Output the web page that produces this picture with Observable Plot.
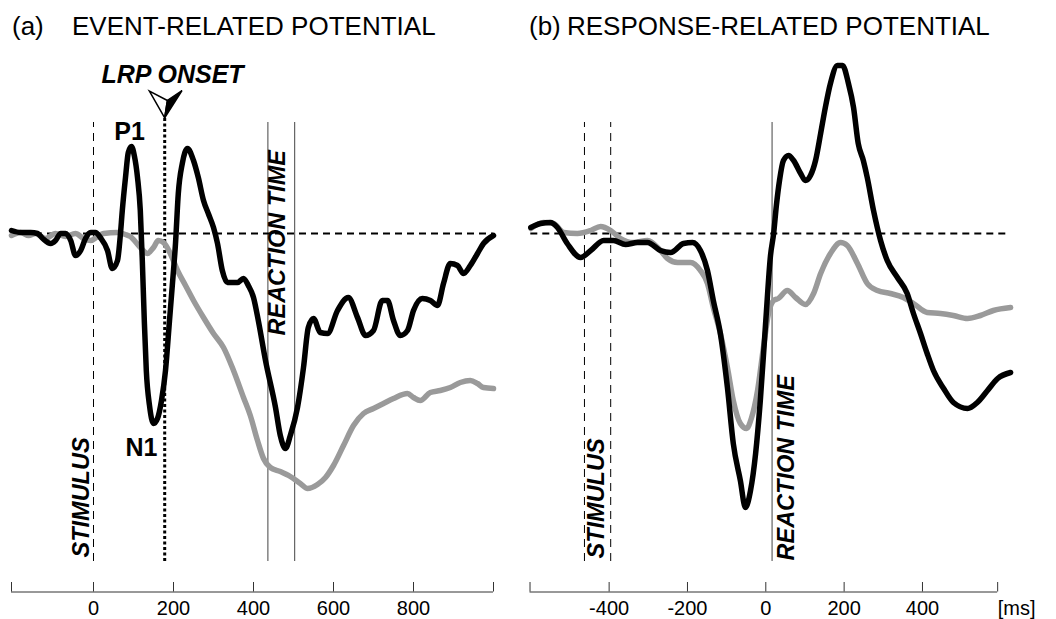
<!DOCTYPE html>
<html><head><meta charset="utf-8">
<script src="https://cdn.jsdelivr.net/npm/d3@7"></script>
<script src="https://cdn.jsdelivr.net/npm/@observablehq/plot@0.6"></script>
<style>
body{margin:0;background:#fff;}
#wrap{position:relative;width:1056px;height:619px;font-family:"Liberation Sans",Arial,sans-serif;overflow:hidden;}
.panel{position:absolute;top:0;height:619px;}
.t{position:absolute;font-size:26px;line-height:26px;color:#000;white-space:nowrap;}
</style></head><body>
<div id="wrap">
  <div class="panel" id="pa" style="left:0;width:520px"></div>
  <div class="panel" id="pb" style="left:520px;width:536px"></div>
  <div class="t" style="left:12px;top:13px">(a)</div>
  <div class="t" style="left:72px;top:13px">EVENT-RELATED POTENTIAL</div>
  <div class="t" style="left:529px;top:13px">(b)</div>
  <div class="t" style="left:567px;top:13px">RESPONSE-RELATED POTENTIAL</div>
</div>
<script>
// ---------- DATA (time in ms, amplitude in arbitrary µV units, positive up) ----------
const erpBlack = [[-205,0.3],[-182,0.1],[-157,0.1],[-140,0],[-127,-0.5],[-107,-1.0],[-95,-0.7],[-82,0],[-70,0],[-57,-0.7],[-45,-2.2],[-32,-1.7],[-20,-0.5],[-7,0.1],[5,0.1],[17,-0.4],[35,-1.7],[47,-3.5],[60,-2.7],[67,-0.2],[72,2.3],[80,5.6],[87,8.1],[95,8.7],[102,7.8],[110,5.6],[117,2.3],[122,-2.7],[127,-8.7],[132,-13.7],[140,-17.2],[150,-19],[160,-18.5],[170,-16.7],[180,-13.7],[190,-8.7],[197,-5.2],[205,-1.0],[212,4.0],[222,7.0],[235,8.5],[250,7.3],[262,5.6],[275,3.3],[287,2.0],[300,0.6],[310,-1.0],[322,-3.7],[335,-4.9],[360,-4.9],[375,-4.5],[387,-5.2],[400,-6.4],[412,-8.7],[430,-12.7],[455,-17.4],[467,-20.2],[480,-21.5],[492,-20.2],[510,-17.4],[525,-13.4],[537,-9.4],[550,-8.5],[567,-9.9],[585,-10],[610,-7.7],[637,-6.4],[660,-8.4],[680,-10.2],[700,-9.7],[722,-6.7],[735,-6.7],[750,-8.7],[767,-10.2],[785,-9.7],[800,-7.7],[822,-6.5],[842,-6.7],[860,-7.2],[875,-5.0],[892,-3.0],[910,-3.2],[925,-4.0],[942,-3.2],[960,-2.0],[975,-1.0],[1000,-0.2]];
const erpGray = [[-205,-0.2],[-182,0.1],[-162,-0.2],[-145,0],[-120,-0.5],[-95,0],[-70,-0.3],[-45,0],[-25,-0.5],[-7,-0.7],[10,-0.3],[25,0],[60,0.1],[80,-0.1],[92,-0.3],[117,-1.4],[135,-2.0],[150,-1.4],[162,-0.7],[175,-0.9],[192,-2.0],[210,-3.7],[230,-5.2],[250,-6.7],[275,-8.4],[300,-10],[325,-11.4],[350,-13.7],[375,-16.4],[392,-18.2],[410,-20.7],[425,-22.5],[442,-23.4],[467,-23.8],[492,-24.3],[517,-25],[535,-25.5],[560,-25.1],[580,-24.4],[600,-23.2],[625,-21.2],[650,-19.2],[675,-18],[700,-17.5],[725,-17],[750,-16.5],[785,-16],[800,-16.4],[817,-16.7],[842,-15.9],[867,-15.7],[892,-15.4],[917,-14.9],[942,-14.7],[960,-15],[975,-15.4],[1000,-15.5]];
const rrpBlack = [[-600,0.6],[-575,1.0],[-550,1.1],[-532,0.6],[-507,-1.0],[-473,-2.4],[-447,-1.7],[-414,-0.7],[-389,-0.7],[-358,-1.1],[-328,-0.9],[-302,-0.9],[-269,-1.7],[-243,-1.9],[-210,-1.0],[-187,-0.9],[-167,-1.7],[-149,-3.7],[-134,-6.7],[-116,-10],[-98,-15.4],[-83,-21],[-65,-24.7],[-52,-27.4],[-39,-25.7],[-26,-22],[-14,-16.7],[0,-8.7],[12,-2.2],[20,0],[27,2.8],[35,5.3],[45,7.3],[58,7.8],[71,7.3],[89,6.0],[101,5.3],[114,5.8],[127,7.3],[140,10],[152,12.6],[165,15],[183,16.8],[196,16.8],[211,15],[224,12.6],[236,9.0],[249,7.3],[259,5.6],[275,2.3],[293,-0.7],[310,-2.7],[336,-4.4],[361,-6.0],[377,-8.0],[395,-10],[412,-12],[428,-13.7],[454,-15.5],[479,-16.9],[515,-17.5],[540,-16.9],[566,-15.7],[592,-14.5],[625,-13.9]];
const rrpGray = [[-600,0.5],[-568,1.1],[-542,1.0],[-516,0.1],[-481,0],[-447,0.3],[-422,0.7],[-396,0.3],[-371,-0.5],[-338,-0.9],[-302,-0.7],[-269,-1.7],[-251,-2.5],[-225,-2.9],[-192,-2.9],[-167,-3.7],[-149,-5.0],[-134,-7.4],[-116,-10],[-98,-13.4],[-83,-16.7],[-65,-19],[-49,-19.5],[-37,-18.5],[-21,-15.7],[-6,-11.4],[7,-8.0],[20,-6.7],[32,-6.5],[55,-5.7],[76,-6.4],[101,-7.1],[122,-6.0],[140,-4.0],[165,-2.0],[191,-0.9],[208,-1.2],[234,-3.0],[259,-5.0],[285,-5.7],[318,-6.0],[351,-6.4],[377,-7.0],[412,-7.9],[446,-8.0],[479,-8.2],[515,-8.5],[548,-8.2],[581,-7.7],[625,-7.4]];

const erpTicks = [0, 200, 400, 600, 800];
const rrpTicks = [-400, -200, 0, 200, 400];
const erpAxisEnds = [-205, 1000];
const rrpAxisEnds = [-602, 592];
const erpDataEnds = [-205, 1000];
const rrpDataEnds = [-600, 625];

// event markers (ms)
const erpStimulus = [0];
const erpLrpOnset = [178];
const erpReaction = [436, 503];
const rrpStimulus = [-463, -396];
const rrpReaction = [16];

// ---------- LAYOUT ----------
const FONT = '"Liberation Sans", Arial, sans-serif';
const yDomain = [-38.6, 23.3];
const vTop = 11.1, vBottom = -32.8;      // extent of marker lines
const axisV = -35.85, tickLen = 0.95, labelV = -38.1;

const wingL = {draw(ctx){ ctx.moveTo(0,0); ctx.lineTo(-15.3,-26.7); ctx.lineTo(2.7,-17.3); ctx.closePath(); }};
const wingR = {draw(ctx){ ctx.moveTo(0,0); ctx.lineTo(2.7,-17.3); ctx.lineTo(17.3,-27.3); ctx.closePath(); }};

function axisMarks(ticks, ends) {
  return [
    Plot.ruleY([axisV], {x1: ends[0], x2: ends[1], stroke: "#333", strokeWidth: 1}),
    Plot.ruleX([...ticks, ...ends], {x: d => d, y1: axisV, y2: axisV + tickLen, stroke: "#333", strokeWidth: 1}),
    Plot.text(ticks, {x: d => d, y: labelV, text: d => String(d), lineAnchor: "bottom", fontSize: 20, fill: "#000"})
  ];
}
function curve(data, color) {
  return Plot.line(data, {x: d => d[0], y: d => d[1], stroke: color, strokeWidth: 5.5, curve: "monotone-x", strokeLinejoin: "round", strokeLinecap: "round"});
}
function vlabel(text, x, y) {
  return Plot.text([text], {x: () => x, y: () => y, text: d => d, rotate: -90, textAnchor: "start", lineAnchor: "top",
    fontWeight: "bold", fontStyle: "italic", fontSize: 23.5, fill: "#000"});
}

const plotA = Plot.plot({
  width: 520, height: 619, margin: 0,
  x: {domain: [-232.5, 1067.5], range: [0, 520], axis: null},
  y: {domain: yDomain, range: [619, 0], axis: null},
  style: {fontFamily: FONT, background: "transparent", overflow: "visible"},
  marks: [
    Plot.ruleX(erpStimulus, {y1: vBottom, y2: vTop, stroke: "#000", strokeWidth: 1, strokeDasharray: "8,6"}),
    Plot.ruleX(erpReaction, {y1: vBottom, y2: vTop, stroke: "#444", strokeWidth: 1}),
    Plot.ruleX(erpLrpOnset, {y1: vBottom, y2: 11.5, stroke: "#000", strokeWidth: 3, strokeDasharray: "3,2.5"}),
    Plot.ruleY([0], {x1: erpDataEnds[0], x2: erpDataEnds[1], stroke: "#000", strokeWidth: 2, strokeDasharray: "7,5"}),
    curve(erpGray, "#9a9a9a"),
    curve(erpBlack, "#000"),
    Plot.dot(erpLrpOnset, {x: d => d, y: () => 11.57, symbol: wingL, fill: "#fff", stroke: "#000", strokeWidth: 1.5, r: 5}),
    Plot.dot(erpLrpOnset, {x: d => d, y: () => 11.57, symbol: wingR, fill: "#000", stroke: "#000", strokeWidth: 1.5, r: 5}),
    Plot.text(["LRP ONSET"], {x: () => 197.5, y: () => 15.1, text: d => d, lineAnchor: "bottom", textAnchor: "middle", fontWeight: "bold", fontStyle: "italic", fontSize: 25, fill: "#000"}),
    Plot.text(["P1"], {x: () => 90, y: () => 11.1, text: d => d, lineAnchor: "top", fontWeight: "bold", fontSize: 25, fill: "#000"}),
    Plot.text(["N1"], {x: () => 120, y: () => -20.5, text: d => d, lineAnchor: "top", fontWeight: "bold", fontSize: 25, fill: "#000"}),
    vlabel("STIMULUS", -52.5, -32.4),
    vlabel("REACTION TIME", 437.5, -10.2),
    ...axisMarks(erpTicks, erpAxisEnds)
  ]
});

const plotB = Plot.plot({
  width: 536, height: 619, margin: 0,
  x: {domain: [-626.3, 742.2], range: [0, 536], axis: null},
  y: {domain: yDomain, range: [619, 0], axis: null},
  style: {fontFamily: FONT, background: "transparent", overflow: "visible"},
  marks: [
    Plot.ruleX(rrpStimulus, {y1: vBottom, y2: vTop, stroke: "#000", strokeWidth: 1, strokeDasharray: "8,6"}),
    Plot.ruleX(rrpReaction, {y1: vBottom, y2: vTop, stroke: "#444", strokeWidth: 1}),
    Plot.ruleY([0], {x1: rrpDataEnds[0], x2: rrpDataEnds[1], stroke: "#000", strokeWidth: 2, strokeDasharray: "7,5"}),
    curve(rrpGray, "#9a9a9a"),
    curve(rrpBlack, "#000"),
    vlabel("STIMULUS", -455, -32.5),
    vlabel("REACTION TIME", 30, -32.7),
    ...axisMarks(rrpTicks, rrpAxisEnds),
    Plot.text(["[ms]"], {x: () => rrpAxisEnds[1], y: () => labelV, text: d => d, lineAnchor: "bottom", textAnchor: "start", fontSize: 20, fill: "#000"})
  ]
});

document.getElementById("pa").appendChild(plotA);
document.getElementById("pb").appendChild(plotB);
</script>
</body></html>
